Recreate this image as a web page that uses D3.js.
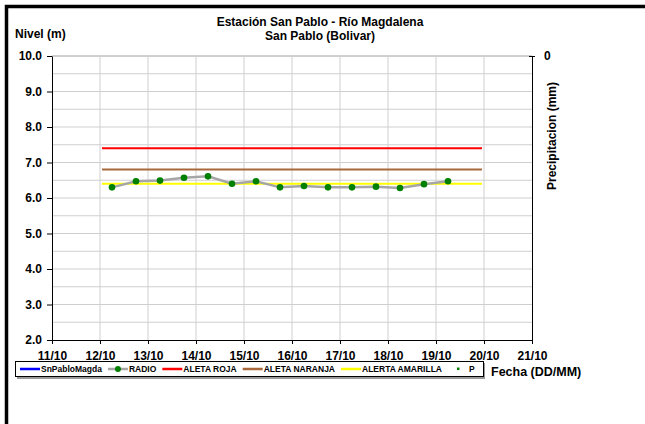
<!DOCTYPE html>
<html>
<head>
<meta charset="UTF-8">
<script src="https://cdn.jsdelivr.net/npm/d3@7"></script>
<style>
body{
    margin:0;
    background-color:white;
    font-family: "Liberation Sans", Arial, sans-serif;
}
.axis path, .axis line{
    stroke:black;
}
.axis text{
    font-weight:bold;
    font-size:12px;
    fill:black;
}
</style>
</head>
<body>
<script>

// nivel del rio, cada 12 horas
var fechas = ["12/10 06","12/10 18","13/10 06","13/10 18","14/10 06","14/10 18","15/10 06","15/10 18",
              "16/10 06","16/10 18","17/10 06","17/10 18","18/10 06","18/10 18","19/10 06"];
var radio = [6.30, 6.47, 6.49, 6.57, 6.61, 6.40, 6.47, 6.30, 6.34, 6.30, 6.30, 6.32, 6.28, 6.39, 6.47];

// niveles de alerta
var alertaInicio = "12/10 01";
var alertaFin = "19/10 23";
var aletaRoja = 7.4;
var aletaNaranja = 6.8;
var alertaAmarilla = 6.4;

var xTicks = ["11/10","12/10","13/10","14/10","15/10","16/10","17/10","18/10","19/10","20/10","21/10"];
var yTicks = [2, 3, 4, 5, 6, 7, 8, 9, 10];
var yGrid = [2.5, 3, 3.5, 4, 4.5, 5, 5.5, 6, 6.5, 7, 7.5, 8, 8.5, 9, 9.5, 10];

var legendNames = ["SnPabloMagda", "RADIO", "ALETA ROJA", "ALETA NARANJA", "ALERTA AMARILLA", "P"];
var legendColors = ["#0000ff", "#a6a6a6", "#ff0000", "#a8683a", "#ffff00", "#008000"];

var parse = d3.timeParse("%d/%m %H");
var parseDay = d3.timeParse("%d/%m");

var width = 645, height = 424;
var plot = {left: 52, right: 532, top: 56, bottom: 340};

var svg = d3.select("body").append("svg")
    .attr("width", width)
    .attr("height", height);

// marco exterior
svg.append("rect")
    .attr("x", 6.5).attr("y", 6.5)
    .attr("width", 700).attr("height", 500)
    .attr("fill", "white")
    .attr("stroke", "black")
    .attr("stroke-width", 3.5);

var x = d3.scaleTime()
    .domain([parseDay(xTicks[0]), parseDay(xTicks[xTicks.length - 1])])
    .range([plot.left, plot.right]);
var y = d3.scaleLinear().domain([2, 10]).range([plot.bottom, plot.top]);
var y2 = d3.scaleLinear().domain([0, 1]).range([plot.top, plot.bottom]);

// rejilla
svg.append("g").selectAll("line")
    .data(yGrid)
    .enter().append("line")
    .attr("x1", plot.left).attr("x2", plot.right)
    .attr("y1", function(d){ return y(d); })
    .attr("y2", function(d){ return y(d); })
    .attr("stroke", function(d){ return d == 10 ? "#a0a0a0" : "#cfcfcf"; })
    .attr("stroke-width", 1);

svg.append("g").selectAll("line")
    .data(xTicks.slice(1, -1))
    .enter().append("line")
    .attr("x1", function(d){ return x(parseDay(d)); })
    .attr("x2", function(d){ return x(parseDay(d)); })
    .attr("y1", plot.top).attr("y2", plot.bottom)
    .attr("stroke", "#cfcfcf")
    .attr("stroke-width", 1);

// ejes
svg.append("g")
    .attr("class", "axis")
    .attr("transform", "translate(0," + plot.bottom + ")")
    .call(d3.axisBottom(x)
        .tickValues(xTicks.map(function(d){ return parseDay(d); }))
        .tickFormat(d3.timeFormat("%d/%m"))
        .tickSize(4).tickSizeOuter(0))
    .selectAll("text").attr("dy", "1.1em").attr("font-size", 12);

svg.append("g")
    .attr("class", "axis")
    .attr("transform", "translate(" + plot.left + ",0)")
    .call(d3.axisLeft(y)
        .tickValues(yTicks)
        .tickFormat(d3.format(".1f"))
        .tickSize(5).tickSizeOuter(0))
    .selectAll("text").attr("x", -10);

svg.append("g")
    .attr("class", "axis")
    .attr("transform", "translate(" + plot.right + ",0)")
    .call(d3.axisRight(y2)
        .tickValues([0])
        .tickFormat(d3.format("d"))
        .tickSize(3).tickSizeOuter(0))
    .call(function(g){
        g.select(".tick line").attr("x1", -3);
        g.select(".tick text").attr("x", 12);
    });

// niveles de alerta
var alertas = [[aletaRoja, legendColors[2]], [aletaNaranja, legendColors[3]], [alertaAmarilla, legendColors[4]]];
svg.append("g").selectAll("line")
    .data(alertas)
    .enter().append("line")
    .attr("x1", x(parse(alertaInicio)))
    .attr("x2", x(parse(alertaFin)))
    .attr("y1", function(d){ return y(d[0]); })
    .attr("y2", function(d){ return y(d[0]); })
    .attr("stroke", function(d){ return d[1]; })
    .attr("stroke-width", 2);

// serie RADIO
var serie = fechas.map(function(f, i){ return {t: parse(f), v: radio[i]}; });

svg.append("path")
    .datum(serie)
    .attr("fill", "none")
    .attr("stroke", "#a6a6a6")
    .attr("stroke-width", 2.5)
    .attr("d", d3.line()
        .x(function(d){ return x(d.t); })
        .y(function(d){ return y(d.v); }));

svg.append("g").selectAll("circle")
    .data(serie)
    .enter().append("circle")
    .attr("cx", function(d){ return x(d.t); })
    .attr("cy", function(d){ return y(d.v); })
    .attr("r", 3.3)
    .attr("fill", "#008000");

// titulos
svg.append("text")
    .attr("x", 320).attr("y", 26)
    .attr("text-anchor", "middle")
    .attr("font-size", 12).attr("font-weight", "bold")
    .text("Estación San Pablo - Río Magdalena");
svg.append("text")
    .attr("x", 320).attr("y", 40)
    .attr("text-anchor", "middle")
    .attr("font-size", 12).attr("font-weight", "bold")
    .text("San Pablo (Bolivar)");

svg.append("text")
    .attr("x", 15).attr("y", 38)
    .attr("font-size", 12).attr("font-weight", "bold")
    .text("Nivel (m)");

svg.append("text")
    .attr("transform", "translate(556,136) rotate(-90)")
    .attr("text-anchor", "middle")
    .attr("font-size", 12).attr("font-weight", "bold")
    .text("Precipitacion (mm)");

svg.append("text")
    .attr("x", 491).attr("y", 376)
    .attr("font-size", 12.5).attr("font-weight", "bold")
    .text("Fecha (DD/MM)");

// leyenda
var legend = svg.append("g");
legend.append("rect")
    .attr("x", 17).attr("y", 363)
    .attr("width", 468).attr("height", 16)
    .attr("fill", "#9a9a9a");
legend.append("rect")
    .attr("x", 15.5).attr("y", 361.5)
    .attr("width", 468).attr("height", 15)
    .attr("fill", "white")
    .attr("stroke", "black")
    .attr("stroke-width", 1);

var lx = 20, ly = 369;
legendNames.forEach(function(name, i){
    var g = legend.append("g").attr("transform", "translate(" + lx + "," + ly + ")");
    if (i == 5) {
        g.append("rect").attr("x", 9).attr("y", -1.5).attr("width", 2.5).attr("height", 2.5)
            .attr("fill", legendColors[i]);
    } else {
        g.append("line").attr("x1", 0).attr("x2", 20).attr("y1", 0).attr("y2", 0)
            .attr("stroke", legendColors[i]).attr("stroke-width", 2.5);
        if (i == 1) {
            g.append("circle").attr("cx", 10).attr("cy", 0).attr("r", 3).attr("fill", "#008000");
        }
    }
    var t = g.append("text")
        .attr("x", 21).attr("y", 3)
        .attr("font-size", 8.5).attr("font-weight", "bold")
        .text(name);
    lx += 21 + t.node().getComputedTextLength() + 6;
});

</script>
</body>
</html>
